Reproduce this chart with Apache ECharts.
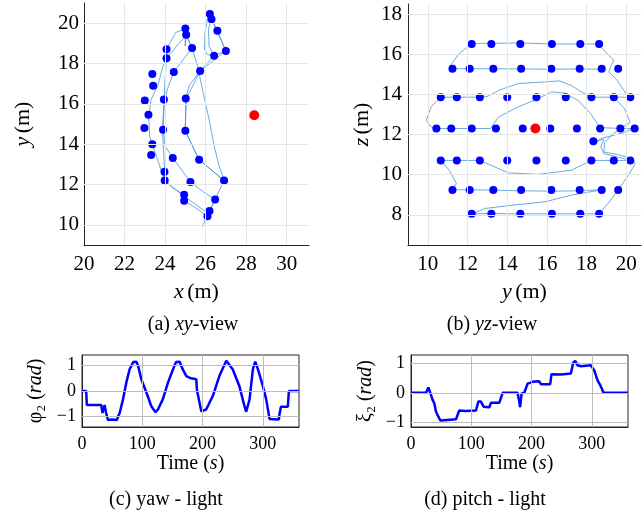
<!DOCTYPE html>
<html><head><meta charset="utf-8">
<script src="https://cdn.jsdelivr.net/npm/echarts@6.0.0/dist/echarts.min.js"></script>
<style>html,body{margin:0;padding:0;background:#fff}#c{width:644px;height:520px}</style>
</head><body><div id="c"></div>
<script>
// ---------- (a) xy-view ----------
const xyDotX = [26.21,26.29,26.58,27.0,26.42,25.0,25.04,25.33,24.07,24.07,24.43,25.73,23.37,23.41,23.0,23.94,25.02,23.18,22.98,23.9,25.0,23.37,23.31,24.38,25.68,23.97,23.98,25.25,26.91,24.94,24.94,26.47,26.19,26.09];
const xyDotY = [20.45,20.2,19.62,18.62,18.38,19.74,19.42,18.77,18.71,18.26,17.58,17.63,17.48,16.9,16.17,16.22,16.26,15.46,14.8,14.72,14.67,13.99,13.46,13.31,13.23,12.63,12.2,12.12,12.2,11.49,11.19,11.26,10.68,10.43];
const xyLight = [28.4, 15.43];
const trajXY = [
[25.84,9.90],[25.97,10.23],[26.09,10.43],[26.19,10.66],[26.47,11.26],[26.91,12.20],
[26.34,12.67],[25.68,13.23],[25.35,13.91],[25.00,14.67],[25.02,16.26],[25.18,16.89],[25.73,17.63],[27.00,18.63],
[26.58,19.62],[26.29,20.23],[26.21,20.50],[26.09,20.20],[25.97,19.54],[25.94,18.71],[26.09,18.44],[26.42,18.38],[26.17,18.87],[26.14,19.70],[26.29,20.20],[26.50,19.73],[27.00,18.63],[26.42,18.38],[25.73,17.63],[25.05,16.26],[24.99,14.67],[25.43,13.74],[25.68,13.23],[26.91,12.20],
[26.67,12.91],[26.42,13.91],[26.17,15.23],[25.88,16.55],[25.60,17.88],[25.33,18.77],[25.04,19.42],[24.99,18.87],[25.00,19.73],[24.53,19.54],[24.07,18.71],[24.07,18.26],[23.87,17.80],[23.64,16.89],[23.31,16.22],[23.19,15.40],[23.24,14.40],[23.51,13.57],[23.79,12.75],[23.98,12.20],[24.36,11.84],[24.94,11.49],[24.94,11.19],[25.51,10.84],[26.09,10.43],[26.19,10.66],
[26.47,11.26],[25.84,11.67],[25.25,12.12],[24.86,12.67],[24.38,13.31],[24.00,13.91],[23.90,14.72],[23.95,15.89],[24.11,16.72],[24.43,17.58],[25.33,18.77],[25.04,19.42],[24.07,18.26],[24.00,17.22],[23.95,16.22],[23.87,14.72],[23.98,12.63],[24.00,12.17],[24.94,11.42],[26.09,10.59],[26.19,10.66]
];
const xyTicksX = [20,22,24,26,28,30];
const xyTicksY = [10,12,14,16,18,20];

// ---------- (b) yz-view ----------
const rowZ = [16.51, 15.28, 13.86, 12.3, 10.71, 9.24, 8.05];
const row1Y = [12.21,13.2,14.66,16.25,17.68,18.63];
const row2Y = [11.24,12.11,13.3,14.7,16.22,17.65,18.76,19.59];
const row3Y = [10.65,11.46,12.62,14.0,15.47,16.95,18.24,19.37,20.2];
const row4Y = [10.43,11.18,12.21,13.43,14.78,16.17,17.51,18.68,19.7,20.42];
const row5Y = [10.65,11.46,12.62,14.0,15.47,16.95,18.24,19.37,20.2];
const row6Y = [11.24,12.11,13.3,14.7,16.22,17.65,18.76,19.59];
const row7Y = [12.21,13.2,14.66,16.25,17.68,18.63];
const extraYZ = [18.34, 11.67];
const yzLight = [15.42, 12.3];
const trajYZ = [
[18.76,15.25],[17.65,15.27],[16.22,15.25],[14.69,15.27],[13.30,15.27],[12.11,15.28],[11.25,15.28],[11.08,15.37],[11.58,16.03],[12.21,16.51],[12.74,16.54],[14.66,16.56],[16.25,16.51],[17.68,16.51],[18.63,16.51],[18.71,16.36],[19.04,16.03],[19.37,15.70],[19.21,15.37],[19.12,15.12],[19.54,14.70],[19.87,14.20],[20.04,13.96],[20.20,13.86],
[19.37,13.86],[18.24,13.86],[17.88,14.04],[17.22,14.45],[16.64,14.67],[15.89,14.62],[14.56,14.54],[13.57,14.20],[12.99,13.89],[12.62,13.86],[11.46,13.86],[10.65,13.86],[10.17,13.38],[9.92,12.71],[10.17,12.38],[10.43,12.30],
[11.18,12.30],[12.21,12.30],[13.15,12.30],[13.32,12.55],[13.57,12.88],[14.56,13.38],[15.56,13.79],[16.22,14.12],[16.88,14.07],[17.55,13.71],[18.21,13.04],[18.67,12.35],[18.68,12.30],[19.70,12.30],[20.42,12.30],
[19.70,12.05],[18.71,11.80],[18.46,11.55],[18.34,11.67],[18.87,11.75],[18.71,11.39],[18.87,11.05],[19.54,10.89],[20.20,10.71],
[19.37,10.71],[18.24,10.71],[17.22,10.22],[15.56,10.02],[14.06,10.09],[12.62,10.71],[11.46,10.71],[10.65,10.71],[11.08,10.22],[11.44,9.56],[11.25,9.25],
[12.11,9.25],[13.30,9.23],[14.69,9.20],[16.22,9.18],[17.65,9.20],[18.76,9.25],[17.22,8.98],[15.89,8.65],[14.23,8.48],[12.90,8.32],[12.21,8.05],
[13.20,8.07],[14.66,8.05],[16.25,8.05],[17.68,8.05],[18.63,8.05],[19.21,8.73],[19.59,9.24],[20.12,10.0],[20.45,10.56],[20.20,10.82],[19.6,11.0],[18.87,11.13],[18.9,11.6],[19.3,12.0],[19.7,12.3],[20.2,12.6],[19.9,13.3],[19.37,13.86]
];
const yzTicksX = [10,12,14,16,18,20];
const yzTicksY = [8,10,12,14,16,18];

// ---------- (c) yaw ----------
const yawT = [0,7,8,32,34,35,37.5,40,43,50,58,60,62.5,68,73.5,79,85,90.5,93,98.5,107,115,122,126,134,142.6,151,156,162,167,173,181,189.6,190.7,197.9,199.5,206,217,228,239.3,242,250,261,269.6,272.4,278,283.5,287.4,291.8,300,305.6,311.1,314,326.6,327.6,330,341.5,343.2,360];
const yawV = [0,0,-0.55,-0.55,-0.87,-0.87,-0.55,-0.87,-1.14,-1.12,-1.14,-1.0,-0.87,-0.33,0.33,0.86,1.14,1.15,1.0,0.46,-0.07,-0.6,-0.84,-0.73,-0.33,0.33,0.86,1.14,1.15,0.86,0.59,0.5,0.46,0.04,-0.8,-0.86,-0.73,-0.2,0.6,1.19,1.19,0.86,0.2,-0.6,-0.82,-0.33,0.86,1.16,0.86,0.2,-0.33,-1.1,-1.12,-1.12,-0.92,-0.62,-0.62,0,0];
// ---------- (d) pitch ----------
const pitchT = [0,25,28.8,32,36,38.7,41.5,45.4,48.7,50,60,74.6,80,90,107.8,111.7,116,120.5,130,132.6,146.5,152,165,176.8,179.6,181,183.5,188,190.7,193.4,201.7,212.7,215.5,231,233,248.7,265.2,269,272.4,276.3,281.8,298.4,304,309.5,313.9,319.4,360];
const pitchV = [0,0,0.18,0,-0.25,-0.36,-0.64,-0.81,-0.94,-0.9,-0.92,-0.9,-0.6,-0.62,-0.6,-0.3,-0.3,-0.47,-0.49,-0.34,-0.34,0,0,0,-0.3,-0.49,-0.02,0,-0.02,0.31,0.37,0.39,0.29,0.29,0.63,0.62,0.65,1.01,1.08,0.93,0.9,0.93,0.76,0.42,0.26,0,0];
const timeTicks = [100,200,300];
const radTicks = [-1,0,1];

// ---------- build ----------
const FONT = "'Liberation Serif','DejaVu Serif',serif";
const AX = '#262626';
const BLUE = '#0000ff';
const TRAJ = '#4496d6';
const zip = (a,b) => a.map((v,i)=>[v,b[i]]);
const isMult = (v,m) => { const r=v/m; return Math.abs(r-Math.round(r))<1e-6; };
const fmt = m => v => { if(!isMult(v,m)) return ''; const r=Math.round(v); return r<0 ? '\u2212'+Math.abs(r) : String(r); };
const rich = fs => ({ i:{fontStyle:'italic',fontFamily:FONT,fontSize:fs,color:'#000'}, n:{fontFamily:FONT,fontSize:fs,color:'#000'}, s:{fontFamily:FONT,fontSize:Math.round(fs*0.7),color:'#000',verticalAlign:'bottom'} });

function axis(gi, min, max, interval, every, fs, margin, extra){
  return Object.assign({
    type:'value', gridIndex:gi, min, max, interval,
    axisLine:{show:true, onZero:false, lineStyle:{color:AX, width:1}},
    axisTick:{show:false}, splitLine:{show:false},
    axisLabel:{formatter:fmt(every), fontFamily:FONT, fontSize:fs, color:'#000', hideOverlap:false, margin},
    nameLocation:'middle'
  }, extra||{});
}
function gridLines(xi, yi, xs, ys, color){
  return {type:'scatter', xAxisIndex:xi, yAxisIndex:yi, data:[], z:1, silent:true,
    markLine:{silent:true, symbol:['none','none'], animation:false, label:{show:false},
      lineStyle:{color, width:1, type:'solid'}, emphasis:{disabled:true},
      data:[...xs.map(v=>({xAxis:v})), ...ys.map(v=>({yAxis:v}))]}};
}

const yzDots = [];
[row1Y,row2Y,row3Y,row4Y,row5Y,row6Y,row7Y].forEach((r,k)=>r.forEach(y=>yzDots.push([y,rowZ[k]])));
yzDots.push(extraYZ);

const dotStyle = {color:BLUE, opacity:1};
const redStyle = {color:'#ff0000', opacity:1};

const option = {
  animation:false,
  backgroundColor:'#fff',
  grid:[
    {left:84, top:3, width:225, height:242},
    {left:408, top:4, width:236, height:241},
    {left:82, top:355, width:217, height:72, show:true, borderColor:AX, borderWidth:1, backgroundColor:'transparent'},
    {left:411, top:355, width:217, height:72, show:true, borderColor:AX, borderWidth:1, backgroundColor:'transparent'}
  ],
  xAxis:[
    axis(0, 20, 31.1, 2, 2, 21, 9, {name:'{i|x} {n|(m)}', nameGap:36, nameTextStyle:{rich:rich(22)}}),
    axis(1, 9, 20.74, 1, 2, 21, 9, {name:'{i|y} {n|(m)}', nameGap:36, nameTextStyle:{rich:rich(22)}}),
    axis(2, 0, 360, 100, 100, 18, 8, {name:'{n|Time (}{i|s}{n|)}', nameGap:26, nameTextStyle:{rich:rich(20)}}),
    axis(3, 0, 360, 100, 100, 18, 8, {name:'{n|Time (}{i|s}{n|)}', nameGap:26, nameTextStyle:{rich:rich(20)}})
  ],
  yAxis:[
    axis(0, 9, 21, 1, 2, 21, 5, {name:'{i|y} {n|(m)}', nameGap:50, nameTextStyle:{rich:rich(22)}}),
    axis(1, 6.5, 18.5, 0.5, 2, 21, 6, {name:'{i|z} {n|(m)}', nameGap:35, nameTextStyle:{rich:rich(22)}}),
    axis(2, -1.42, 1.42, 0.02, 1, 18, 6, {name:'{n|\u03c6\u2082 (}{i|rad}{n|)}', nameGap:36, nameTextStyle:{rich:rich(20)}}),
    axis(3, -1.16, 1.28, 0.02, 1, 18, 6, {name:'{n|\u03be\u2082 (}{i|rad}{n|)}', nameGap:35, nameTextStyle:{rich:rich(20)}})
  ],
  series:[
    gridLines(0,0, xyTicksX.slice(1), xyTicksY, '#e6e6e6'),
    {type:'line', xAxisIndex:0, yAxisIndex:0, data:trajXY, symbol:'none', z:2, lineStyle:{color:TRAJ, width:0.8}, silent:true},
    {type:'scatter', xAxisIndex:0, yAxisIndex:0, data:zip(xyDotX,xyDotY), symbolSize:8, itemStyle:dotStyle, z:3},
    {type:'scatter', xAxisIndex:0, yAxisIndex:0, data:[xyLight], symbolSize:10, itemStyle:redStyle, z:4},

    gridLines(1,1, yzTicksX, yzTicksY, '#e6e6e6'),
    {type:'line', xAxisIndex:1, yAxisIndex:1, data:trajYZ, symbol:'none', z:2, lineStyle:{color:TRAJ, width:0.8}, silent:true},
    {type:'scatter', xAxisIndex:1, yAxisIndex:1, data:yzDots, symbolSize:8, itemStyle:dotStyle, z:3},
    {type:'scatter', xAxisIndex:1, yAxisIndex:1, data:[yzLight], symbolSize:10, itemStyle:redStyle, z:4},

    gridLines(2,2, timeTicks, radTicks, '#bdbdbd'),
    {type:'line', xAxisIndex:2, yAxisIndex:2, data:zip(yawT,yawV), symbol:'none', z:2, lineStyle:{color:BLUE, width:2.5}},
    gridLines(3,3, timeTicks, radTicks, '#bdbdbd'),
    {type:'line', xAxisIndex:3, yAxisIndex:3, data:zip(pitchT,pitchV), symbol:'none', z:2, lineStyle:{color:BLUE, width:2.5}}
  ],
  graphic:[
    {type:'text', x:193, y:325, style:{text:'{n|(a) }{i|xy}{n|-view}', rich:rich(20), align:'center', verticalAlign:'middle'}},
    {type:'text', x:492, y:325, style:{text:'{n|(b) }{i|yz}{n|-view}', rich:rich(20), align:'center', verticalAlign:'middle'}},
    {type:'text', x:166, y:500, style:{text:'{n|(c) yaw - light}', rich:rich(20), align:'center', verticalAlign:'middle'}},
    {type:'text', x:485, y:500, style:{text:'{n|(d) pitch - light}', rich:rich(20), align:'center', verticalAlign:'middle'}}
  ]
};
const chart = echarts.init(document.getElementById('c'), null, {renderer:'canvas'});
chart.setOption(option);
</script></body></html>
